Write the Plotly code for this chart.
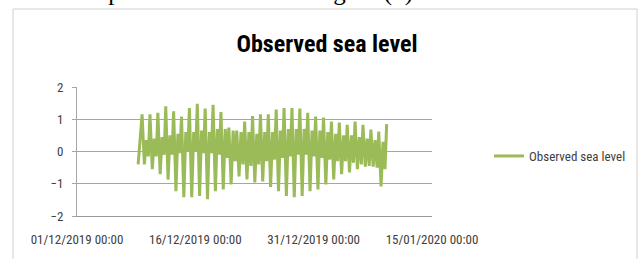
import pandas as pd
import plotly.graph_objects as go

# ---- data (one tidal cycle per day) ----
first_day = "2019-12-09 06:00"
start_time = "2019-12-08 18:00"
start_value = -0.4
big_high = [1.15, 1.15, 1.2, 1.4, 1.25, 1.08, 1.35, 1.48, 1.33, 1.45,
            1.22, 0.74, 0.65, 0.93, 1.1, 1.15, 1.15, 1.3, 1.35, 1.35,
            1.33, 1.2, 1.08, 1.05, 0.93, 0.9, 0.83, 0.93, 0.83, 0.68, 0.62]
big_low = [-0.4, -0.55, -0.7, -0.87, -1.23, -1.42, -1.42, -1.38, -1.48, -1.23,
           -1.18, -1.02, -0.77, -0.87, -0.96, -0.93, -1.1, -1.23, -1.38, -1.42,
           -1.38, -1.23, -1.18, -1.02, -0.87, -0.7, -0.65, -0.55, -0.47, -0.47, -1.08]
small_high = [0.35, 0.4, 0.45, 0.5, 0.55, 0.6, 0.6, 0.65, 0.6, 0.7,
              0.7, 0.65, 0.6, 0.6, 0.55, 0.6, 0.6, 0.65, 0.7, 0.7,
              0.7, 0.65, 0.65, 0.6, 0.55, 0.5, 0.5, 0.45, 0.4, 0.35, 0.3]
small_low = [-0.15, -0.15, -0.1, -0.1, -0.05, 0.0, 0.0, -0.05, -0.05, -0.1,
             -0.2, -0.3, -0.4, -0.45, -0.4, -0.3, -0.25, -0.2, -0.15, -0.1,
             -0.1, -0.15, -0.2, -0.25, -0.3, -0.3, -0.35, -0.4, -0.45, -0.5, -0.55]
end_value = 0.85

tick_labels = ["01/12/2019 00:00", "16/12/2019 00:00", "31/12/2019 00:00", "15/01/2020 00:00"]
tick_dates = ["2019-12-01", "2019-12-16", "2019-12-31", "2020-01-15"]

# ---- assemble the series ----
t0 = pd.Timestamp(first_day)
times = [pd.Timestamp(start_time)]
vals = [start_value]
for i in range(len(big_high)):
    d = t0 + pd.Timedelta(days=i)
    times += [d, d + pd.Timedelta(hours=7), d + pd.Timedelta(hours=13), d + pd.Timedelta(hours=19)]
    vals += [big_high[i], big_low[i], small_high[i], small_low[i]]
times.append(t0 + pd.Timedelta(days=len(big_high)))
vals.append(end_value)

GREEN = "#9BBB59"
NARROW = "Liberation Sans Narrow, Roboto Condensed, Arial Narrow, sans-serif"

fig = go.Figure()
fig.add_trace(go.Scatter(x=times, y=vals, mode="lines", name="Observed sea level",
                         line=dict(color=GREEN, width=3)))

L, R, T, B = 77, 211, 87, 43
W, H = 643, 259
pw, ph = W - L - R, H - T - B

def px2x(px):
    return (px - L) / pw

def py2y(py):
    return (H - B - py) / ph

fig.update_layout(
    width=W, height=H,
    margin=dict(l=L, r=R, t=T, b=B),
    paper_bgcolor="white", plot_bgcolor="white",
    showlegend=True,
    legend=dict(x=px2x(489), y=py2y(156), xanchor="left", yanchor="middle",
                font=dict(family=NARROW, size=13, color="#404040"),
                bgcolor="rgba(0,0,0,0)"),
    title=dict(text="<b>Observed sea level</b>", x=px2x(327), xref="paper",
               xanchor="center", y=1 - 44 / H, yanchor="middle",
               font=dict(family=NARROW, size=24, color="black")),
    xaxis=dict(type="date", range=["2019-12-01", "2020-01-15"],
               tickmode="array", tickvals=tick_dates, ticktext=tick_labels,
               showgrid=False, showline=True, linecolor="#999999", linewidth=1,
               ticks="outside", ticklen=11, tickcolor="rgba(0,0,0,0)",
               tickfont=dict(family=NARROW, size=13, color="#404040"),
               zeroline=False, automargin=False),
    yaxis=dict(range=[-2, 2], tickvals=[-2, -1, 0, 1, 2],
               showgrid=True, gridcolor="#a6a6a6", gridwidth=1,
               showline=True, linecolor="#a6a6a6", linewidth=1,
               ticks="outside", ticklen=4, tickcolor="#a6a6a6",
               ticklabelstandoff=6,
               tickfont=dict(family=NARROW, size=13, color="#404040"),
               zeroline=False, automargin=False),
    shapes=[dict(type="rect", xref="paper", yref="paper",
                 x0=px2x(13), x1=px2x(637), y0=py2y(270), y1=py2y(9),
                 line=dict(color="#d0d0d0", width=1), fillcolor="rgba(0,0,0,0)", layer="below")],
    annotations=[dict(text="and interpolated as shown in Figure (5).", xref="paper", yref="paper",
                      x=px2x(421), y=py2y(8), xanchor="right", yanchor="bottom",
                      showarrow=False,
                      font=dict(family="Liberation Serif, Times New Roman, serif", size=25, color="black"))],
)

fig.write_html("out.html", config={"displayModeBar": False},
               post_script="document.body.style.margin='0';")
